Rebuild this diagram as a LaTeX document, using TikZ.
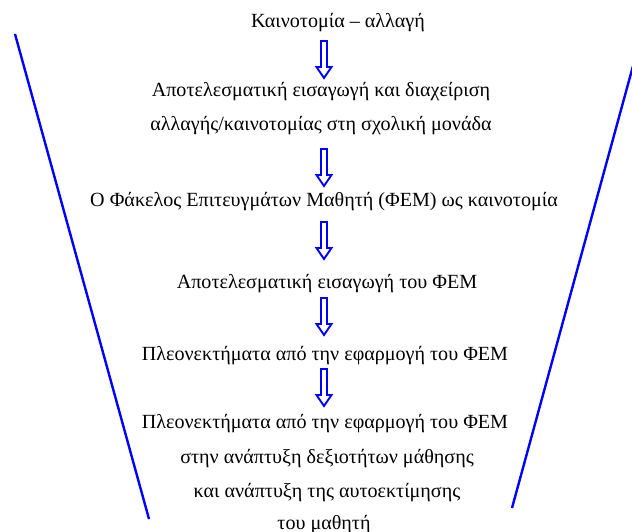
\documentclass[tikz,border=0pt]{standalone}
\usepackage{fontspec}
\setmainfont{Liberation Serif}
\begin{document}
\begin{tikzpicture}[x=1pt,y=-1pt,
  txt/.style={font=\fontsize{20.1}{24}\selectfont, inner sep=0pt, anchor=base, text=black},
  funnel/.style={draw=blue, line width=2.4pt},
  pics/downarrow/.style={code={\draw[blue, line width=1.9pt, fill=white, line join=miter]
    (-3,0) -- (3,0) -- (3,26) -- (7.5,26) -- (0,37) -- (-7.5,26) -- (-3,26) -- cycle;}}]
\useasboundingbox[fill=white] (0,0) rectangle (632,532);
% funnel sides
\coordinate (L1) at (15,34);
\coordinate (L2) at (149,519);
\coordinate (R1) at (633,66);
\coordinate (R2) at (512,508);
\draw[funnel] (L1) -- (L2);
\draw[funnel] (R1) -- (R2);
% texts
\node[txt] (t1) at (338,28) {Καινοτομία – αλλαγή};
\node[txt] (t2a) at (321,97) {Αποτελεσματική εισαγωγή και διαχείριση};
\node[txt] (t2b) at (321,131) {αλλαγής/καινοτομίας στη σχολική μονάδα};
\node[txt] (t3) at (324,206) {Ο Φάκελος Επιτευγμάτων Μαθητή (ΦΕΜ) ως καινοτομία};
\node[txt] (t4) at (327,288) {Αποτελεσματική εισαγωγή του ΦΕΜ};
\node[txt] (t5) at (325,360) {Πλεονεκτήματα από την εφαρμογή του ΦΕΜ};
\node[txt] (t6a) at (325,428) {Πλεονεκτήματα από την εφαρμογή του ΦΕΜ};
\node[txt] (t6b) at (327,463) {στην ανάπτυξη δεξιοτήτων μάθησης};
\node[txt] (t6c) at (327,497) {και ανάπτυξη της αυτοεκτίμησης};
\node[txt] (t6d) at (324,529) {του μαθητή};
% block arrows
\pic (a1) at (324,41) {downarrow};
\pic (a2) at (324,149) {downarrow};
\pic (a3) at (324,222) {downarrow};
\pic (a4) at (324,298) {downarrow};
\pic (a5) at (324,369) {downarrow};
\end{tikzpicture}
\end{document}
